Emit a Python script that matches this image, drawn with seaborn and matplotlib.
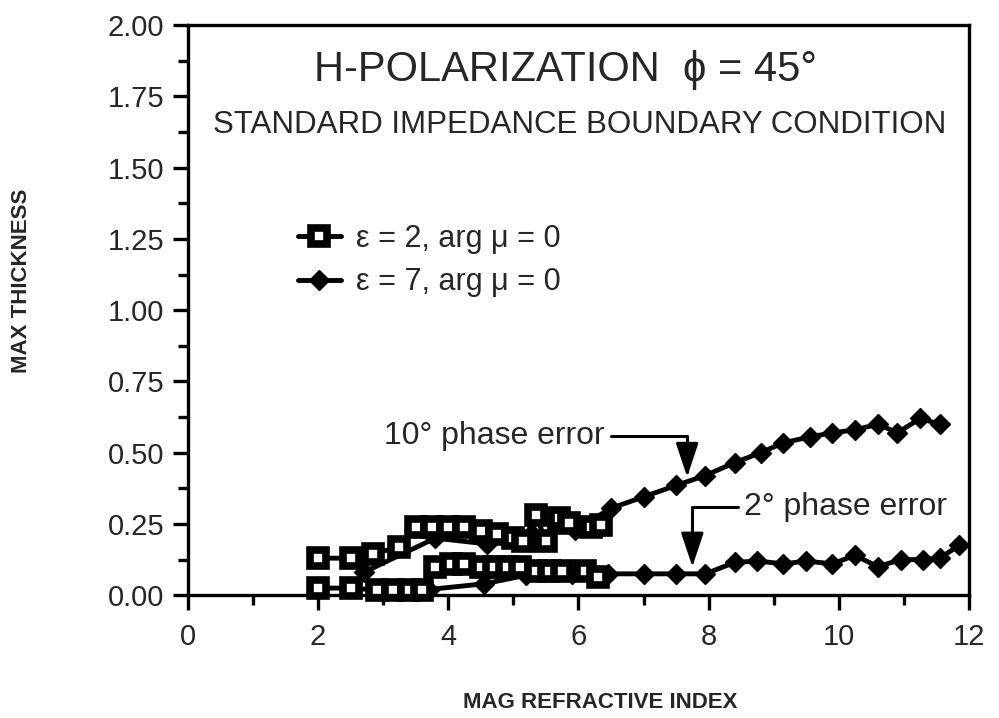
import numpy as np
import pandas as pd
import matplotlib.pyplot as plt
import seaborn as sns

# ---- data ----
# eps = 2, arg mu = 0  (open squares)
n_eps2_10deg = [2.0, 2.5, 2.85, 3.25, 3.5, 3.75, 4.0, 4.25, 4.5, 4.75, 5.0, 5.15,
                5.35, 5.5, 5.7, 5.85, 6.2, 6.35]
t_eps2_10deg = [0.13, 0.13, 0.145, 0.17, 0.24, 0.24, 0.24, 0.24, 0.225, 0.215, 0.2, 0.19,
                0.28, 0.19, 0.27, 0.255, 0.24, 0.245]
n_eps2_2deg = [2.0, 2.5, 2.9, 3.15, 3.4, 3.6, 3.8, 4.05, 4.25, 4.5, 4.7, 4.9, 5.1,
               5.35, 5.55, 5.75, 6.1, 6.3]
t_eps2_2deg = [0.025, 0.025, 0.018, 0.018, 0.018, 0.02, 0.1, 0.11, 0.11, 0.1, 0.1, 0.1, 0.1,
               0.085, 0.085, 0.085, 0.085, 0.065]

# eps = 7, arg mu = 0  (filled diamonds)
n_eps7_10deg = [2.7, 3.8, 4.6, 5.3, 5.95, 6.5, 7.0, 7.5, 7.95, 8.4, 8.8, 9.15, 9.55,
                9.9, 10.25, 10.6, 10.9, 11.25, 11.55]
t_eps7_10deg = [0.08, 0.2, 0.18, 0.21, 0.23, 0.305, 0.345, 0.385, 0.42, 0.465, 0.5, 0.535, 0.555,
                0.57, 0.58, 0.6, 0.57, 0.62, 0.6]
n_eps7_2deg = [3.7, 4.55, 5.2, 5.9, 6.45, 7.0, 7.5, 7.95, 8.4, 8.75, 9.15, 9.5, 9.9,
               10.25, 10.6, 10.95, 11.3, 11.55, 11.85]
t_eps7_2deg = [0.02, 0.04, 0.07, 0.075, 0.075, 0.075, 0.075, 0.075, 0.115, 0.12, 0.11, 0.12, 0.11,
               0.14, 0.1, 0.125, 0.125, 0.13, 0.175]

x_ticks = [0, 2, 4, 6, 8, 10, 12]
y_ticks = [0.0, 0.25, 0.5, 0.75, 1.0, 1.25, 1.5, 1.75, 2.0]

label_eps2 = "ε = 2, arg μ = 0"
label_eps7 = "ε = 7, arg μ = 0"

# ---- style ----
sns.set_theme(style="ticks")
plt.rcParams['font.family'] = ['Liberation Sans', 'DejaVu Sans']

fig = plt.figure(figsize=(9.99, 7.18), dpi=100)
ax = fig.add_axes([0.188, 0.171, 0.782, 0.794])

dm = dict(marker='D', markersize=10, markerfacecolor='black', markeredgecolor='black',
          markeredgewidth=1, color='black', linewidth=3.5, clip_on=False)
sq = dict(marker='s', markersize=11, markerfacecolor='white', markeredgecolor='black',
          markeredgewidth=5.5, color='black', linewidth=3.5, clip_on=False)

sns.lineplot(x=n_eps7_10deg, y=t_eps7_10deg, ax=ax, sort=False, estimator=None, label=label_eps7, **dm)
sns.lineplot(x=n_eps7_2deg, y=t_eps7_2deg, ax=ax, sort=False, estimator=None, **dm)
sns.lineplot(x=n_eps2_10deg, y=t_eps2_10deg, ax=ax, sort=False, estimator=None, label=label_eps2, **sq)
sns.lineplot(x=n_eps2_2deg, y=t_eps2_2deg, ax=ax, sort=False, estimator=None, **sq)

ax.set_xlim(0, 12)
ax.set_ylim(0, 2)
ax.set_xticks(x_ticks)
ax.set_xticklabels([str(v) for v in x_ticks])
ax.set_yticks(y_ticks)
ax.set_yticklabels([f"{v:.2f}" for v in y_ticks])
ax.set_xticks(np.arange(1, 12, 2), minor=True)
ax.set_yticks(np.arange(0.125, 2, 0.25), minor=True)
ax.tick_params(which='major', direction='out', length=11, width=2.4, labelsize=21, color='black')
ax.tick_params(which='minor', direction='out', length=7, width=2.4, color='black')
ax.tick_params(axis='x', pad=9)
ax.tick_params(axis='y', pad=6)
for s in ax.spines.values():
    s.set_visible(True)
    s.set_linewidth(2.4)
    s.set_color('black')

ax.set_xlabel("MAG REFRACTIVE INDEX", fontsize=16, fontweight='bold')
ax.set_ylabel("MAX THICKNESS", fontsize=16, fontweight='bold')
ax.xaxis.set_label_coords(0.5275, -0.17)
ax.yaxis.set_label_coords(-0.20, 0.551)

# legend
handles, labels = ax.get_legend_handles_labels()
order = [labels.index(label_eps2), labels.index(label_eps7)]
ax.legend([handles[i] for i in order], [labels[i] for i in order],
          loc='upper left', bbox_to_anchor=(0.141, 0.652), frameon=False,
          borderpad=0, borderaxespad=0, handlelength=1.4, handletextpad=0.5,
          labelspacing=0.45, fontsize=22)

# titles
fig.text(0.566, 0.9025, "H-POLARIZATION  ϕ = 45°", ha='center', va='center', fontsize=30)
fig.text(0.5806, 0.826, "STANDARD IMPEDANCE BOUNDARY CONDITION", ha='center', va='center', fontsize=22.5)

# phase error annotations
arrow = dict(arrowstyle='-|>,head_length=0.9,head_width=0.3', color='black', lw=2.2,
             connectionstyle='angle,angleA=0,angleB=90,rad=0', shrinkA=2, shrinkB=0)
ax.annotate("10° phase error", xy=(7.67, 0.415), xytext=(6.4, 0.56),
            ha='right', va='center', fontsize=23,
            arrowprops=dict(arrow, relpos=(1, 0.5)))
ax.annotate("2° phase error", xy=(7.75, 0.10), xytext=(8.54, 0.31),
            ha='left', va='center', fontsize=23,
            arrowprops=dict(arrow, relpos=(0, 0.5)))

fig.savefig("out.png", dpi=100)
